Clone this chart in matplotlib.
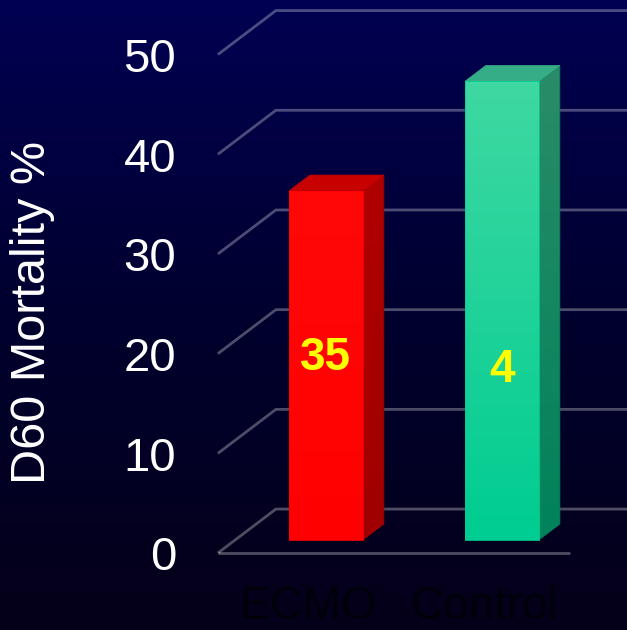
import numpy as np
import matplotlib
matplotlib.use("Agg")
import matplotlib.pyplot as plt
from matplotlib.colors import LinearSegmentedColormap
from matplotlib.patches import Polygon

# ---- data ----
categories = ["ECMO", "Control"]
mortality = [35, 46]
value_labels = ["35", "4"]
y_ticks = [0, 10, 20, 30, 40, 50]
y_label = "D60 Mortality %"

# ---- styling ----
# (top colour, bottom colour) for each face
front_colors = [("#ff0808", "#ff0000"), ("#3fd8a2", "#00cd91")]
side_colors = [("#b00000", "#a00000"), ("#2a8c68", "#00825a")]
top_colors = ["#c80000", "#35ad87"]
FONT = "Liberation Sans"

# depth offset of the pseudo-3D box (in data units)
DX, DY = 0.3295, 4.41
BAR_W = 0.42
D0, D1 = 0.30, 0.66          # bar front / back depth


def proj(x, v, d):
    return (x + d * DX, v + d * DY)


def shaded_face(ax, pts, c_top, c_bottom, z):
    """Fill a polygon with a vertical colour gradient."""
    poly = Polygon(pts, closed=True, facecolor="none", edgecolor="none")
    ax.add_patch(poly)
    xs = [p[0] for p in pts]
    ys = [p[1] for p in pts]
    cmap = LinearSegmentedColormap.from_list("face", [c_bottom, c_top])
    g = np.linspace(0, 1, 128).reshape(-1, 1)
    im = ax.imshow(g, extent=[min(xs), max(xs), min(ys), max(ys)], origin="lower",
                   aspect="auto", cmap=cmap, zorder=z, interpolation="bilinear")
    im.set_clip_path(poly)
    ax.add_patch(Polygon(pts, closed=True, facecolor="none", edgecolor=c_bottom,
                         lw=0.6, zorder=z))


fig = plt.figure(figsize=(6.27, 6.30), dpi=100)
ax = fig.add_axes([0, 0, 1, 1])
ax.axis("off")
XL, XR = -1.753, 1.809
YB, YT = -7.72, 55.47

# dark blue background gradient
bg = LinearSegmentedColormap.from_list("bg", ["#050019", "#00002e", "#000052"])
grad = np.linspace(0, 1, 256).reshape(-1, 1)
ax.imshow(grad, extent=[XL, XR, YB, YT], origin="lower", aspect="auto",
          cmap=bg, zorder=0, interpolation="bilinear")

# gridlines: diagonal on the left side wall, horizontal on the back wall
grid_kw = dict(color="white", alpha=0.3, lw=2.0, solid_capstyle="butt", zorder=1)
x_left = -0.515
for v in y_ticks:
    p0 = proj(x_left, v, 0)
    p1 = proj(x_left, v, 1)
    ax.plot([p0[0], p1[0], XR + 0.2], [p0[1], p1[1], p1[1]], **grid_kw)
f0 = proj(x_left, 0, 0)
f1 = proj(1.485, 0, 0)
ax.plot([f0[0], f1[0]], [f0[1], f1[1]], **grid_kw)

# tick labels on the front edge
for v in y_ticks:
    tx, ty = proj(-0.753, v, 0)
    ax.text(tx, ty - 1.75, str(v), ha="right", va="baseline", color="white",
            fontsize=34, family=FONT, zorder=5)

# 3D bars
for i, (val, fc, sc, tc) in enumerate(zip(mortality, front_colors, side_colors, top_colors)):
    l, r = i - BAR_W / 2, i + BAR_W / 2
    front = [proj(l, 0, D0), proj(r, 0, D0), proj(r, val, D0), proj(l, val, D0)]
    side = [proj(r, 0, D0), proj(r, 0, D1), proj(r, val, D1), proj(r, val, D0)]
    top = [proj(l, val, D0), proj(r, val, D0), proj(r, val, D1), proj(l, val, D1)]
    shaded_face(ax, side, sc[0], sc[1], 3)
    ax.add_patch(Polygon(top, closed=True, facecolor=tc, edgecolor=tc,
                         lw=0.5, zorder=3))
    shaded_face(ax, front, fc[0], fc[1], 4)

# value labels on the bar fronts
label_heights = [18.2, 17.0]
for i, (txt, h) in enumerate(zip(value_labels, label_heights)):
    lx, ly = proj(i, h, D0)
    ax.text(lx, ly, txt, ha="center", va="center", color="#ffff00",
            fontsize=33, fontweight="bold", family=FONT, zorder=6)

# category labels (dark, along the bottom edge)
for i, name in enumerate(categories):
    cx, cy = proj(i, -6.65, 0)
    ax.text(cx, cy, name, ha="center", va="baseline", color="#00000a",
            fontsize=33, family=FONT, zorder=5)

# axis title
fig.text(33 / 627, 1 - 312 / 630, y_label, rotation=90, ha="center", va="center",
         color="white", fontsize=35, family=FONT)

ax.set_xlim(XL, XR)
ax.set_ylim(YB, YT)
fig.savefig("out.png", dpi=100)
